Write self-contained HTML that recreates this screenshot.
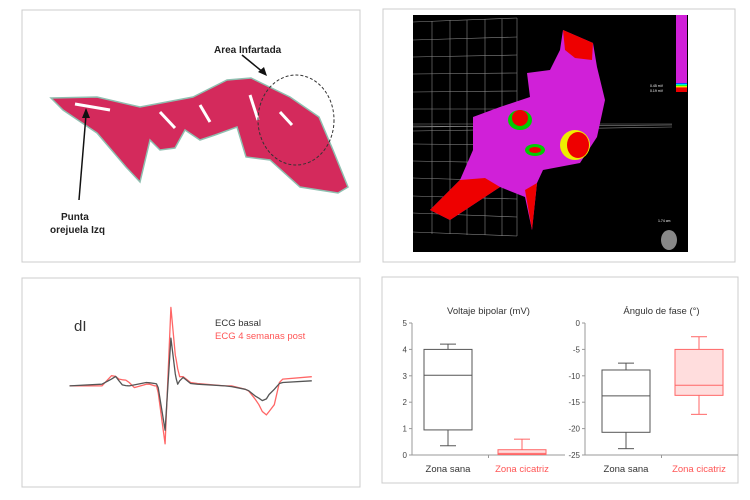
<!DOCTYPE html>
<html><head><meta charset="utf-8"><style>
body{margin:0;background:#fff;width:750px;height:500px;overflow:hidden;font-family:"Liberation Sans",sans-serif}
svg{position:absolute;left:0;top:0}
</style></head><body>
<svg width="750" height="500" xmlns="http://www.w3.org/2000/svg">
<defs><linearGradient id="rb" x1="0" y1="0" x2="0" y2="1"><stop offset="0" stop-color="#00f"/><stop offset=".3" stop-color="#0ff"/><stop offset=".5" stop-color="#0f0"/><stop offset=".7" stop-color="#ff0"/><stop offset="1" stop-color="#f00"/></linearGradient></defs>
<g>
<rect x="22" y="10" width="338" height="252" fill="#fff" stroke="#ccc"/>
<polygon points="51,98 97,97 140,107 193,97 227,80 251,78 290,97 319,117 333,150 348,187 338,193 300,187 270,160 246,157 237,127 215,135 200,140 185,130 175,148 160,150 150,140 140,182 126,167 97,133 63,110" fill="#d42a5c" stroke="#8fbfb0" stroke-width="1.5"/>
<path d="M75,104 L110,110 M160,112 L175,128 M200,105 L210,122 M250,95 L258,120 M280,112 L292,125" stroke="#fff" stroke-width="3" fill="none"/>
<ellipse cx="296" cy="120" rx="38" ry="45" fill="none" stroke="#333" stroke-dasharray="3,2"/>
<text x="214" y="53" font-size="10" font-weight="bold" fill="#222">Area Infartada</text>
<line x1="242" y1="55" x2="264" y2="73" stroke="#111" stroke-width="1.5"/><polygon points="267,76 258,72 264,67" fill="#111"/>
<text x="61" y="220" font-size="10" font-weight="bold" fill="#222">Punta</text>
<text x="50" y="233" font-size="10" font-weight="bold" fill="#222">orejuela Izq</text>
<line x1="79" y1="200" x2="86" y2="115" stroke="#111" stroke-width="1.5"/><polygon points="86,108 82,118 90,118" fill="#111"/>
</g>
<g>
<rect x="383" y="9" width="352" height="253" fill="#fff" stroke="#ccc"/>
<rect x="413" y="15" width="275" height="237" fill="#000"/>
<g stroke="#888" stroke-width=".6" fill="none">
<path d="M413,22 L517,18 M413,232 L517,236 M413,40 L517,37 M413,57 L517,55 M413,74 L517,73 M413,92 L517,91 M413,109 L517,109 M413,126 L517,127 M413,144 L517,145 M413,161 L517,163 M413,178 L517,181 M413,196 L517,199 M413,213 L517,217"/>
<path d="M432,21 V234 M450,20 V234 M467,20 V235 M485,19 V235 M502,19 V236 M517,18 V236"/>
<path d="M413,127 L672,125 M413,131 L672,127 M413,124 L672,124"/>
</g>
<polygon points="563,30 593,43 597,67 605,100 597,137 580,163 543,170 537,183 532,230 525,197 500,187 450,220 430,210 460,180 473,150 473,117 500,107 530,97 527,73 550,70 560,50" fill="#d020d8"/>
<path d="M563,30 L593,43 L592,60 L575,58 L565,50Z" fill="#e00"/>
<path d="M430,210 L460,180 L485,178 L500,187 L450,220Z" fill="#e00"/>
<path d="M525,190 L537,183 L532,230 Z" fill="#e00"/>
<ellipse cx="520" cy="120" rx="12" ry="10" fill="#0c0"/><ellipse cx="520" cy="118" rx="8" ry="8" fill="#e00"/>
<ellipse cx="575" cy="145" rx="15" ry="15" fill="#ee0"/><ellipse cx="578" cy="145" rx="11" ry="13" fill="#e00"/>
<ellipse cx="535" cy="150" rx="10" ry="6" fill="#0c0"/><ellipse cx="535" cy="150" rx="6" ry="3" fill="#e00"/>
<rect x="676" y="15" width="11" height="68" fill="#d020d8"/>
<rect x="676" y="83" width="11" height="5" fill="url(#rb)"/><rect x="676" y="88" width="11" height="4" fill="#e00"/>
<text x="650" y="87" font-size="3.5" fill="#fff">0.45 mV</text><text x="650" y="92" font-size="3.5" fill="#fff">0.19 mV</text>
<text x="658" y="222" font-size="3.5" fill="#fff">1.74 cm</text>
<ellipse cx="669" cy="240" rx="8" ry="10" fill="#888"/>
</g>
<g>
<rect x="22" y="278" width="338" height="209" fill="#fff" stroke="#ccc"/>
<text x="74" y="331" font-size="15" fill="#333">dI</text>
<text x="215" y="326" font-size="9.5" fill="#333">ECG basal</text>
<text x="215" y="339" font-size="9.5" fill="#f55">ECG 4 semanas post</text>
<g id="ecg"></g>
</g>
<g>
<rect x="382" y="277" width="356" height="206" fill="#fff" stroke="#ccc"/>
<g id="bp"></g>
</g>
</svg>
<script>
const ecgT=[145,240,268,280,290,300,310,320,335,370,380,395,400,405,425,442,455,458,462,468,478,500,520,600,620,660,670,690,700,710,722,730,745,760,770,855];
const ecgBasal=[0,5,20,28,15,3,1,0,3,10,9,7,6,-5,-130,140,35,20,5,15,25,7,5,0,-2,-10,-14,-30,-36,-43,-38,-25,-10,7,10,15];
const ecgPost=[0,0,30,28,20,18,17,10,-5,5,5,0,0,-20,-170,230,90,75,50,27,27,10,7,0,0,-10,-15,-40,-55,-75,-85,-75,-55,10,20,27];
const ns="http://www.w3.org/2000/svg";
function mk(tag,at,parent){const e=document.createElementNS(ns,tag);for(const k in at)e.setAttribute(k,at[k]);parent.appendChild(e);return e;}
const ex=t=>20+t/2.93, ey=v=>275+(325-v)/2.93;
const eg=document.getElementById('ecg');
function line(vals,col,name){const d=ecgT.map((t,i)=>(i?'L':'M')+ex(t).toFixed(1)+','+ey(vals[i]).toFixed(1)).join(' ');
const p=mk('path',{d:d,fill:'none',stroke:col,'stroke-width':1.3,'stroke-linejoin':'round'},eg);

}
line(ecgPost,'#f66','ecg-post-line');line(ecgBasal,'#555','ecg-basal-line');

const categories=['Zona sana','Zona cicatriz'];
const catColors=['#555','#f66'];
const voltMin=[0.35,0.02],voltQ1=[0.95,0.02],voltMed=[3.02,0.06],voltQ3=[4.0,0.2],voltMax=[4.2,0.6];
const angMin=[-23.8,-17.3],angQ1=[-20.7,-13.7],angMed=[-13.8,-11.8],angQ3=[-8.9,-5.0],angMax=[-7.6,-2.6];
const voltTicks=[0,1,2,3,4,5];
const angTicks=[0,-5,-10,-15,-20,-25];
const bp=document.getElementById('bp');
function chart(title,ax,ax2,lo,hi,ticks,mn,q1,md,q3,mx,cx,id){
 const yT=323,yB=455,y=v=>yB-(v-lo)/(hi-lo)*(yB-yT);
 let t=mk('text',{x:(ax+ax2)/2,y:314,'font-size':9.5,fill:'#333','text-anchor':'middle'},bp);t.textContent=title;
 
 
 mk('line',{x1:ax,y1:yT,x2:ax,y2:yB,stroke:'#999'},bp);
 mk('line',{x1:ax,y1:yB,x2:ax2,y2:yB,stroke:'#999'},bp);
 mk('line',{x1:(ax+ax2)/2,y1:yB,x2:(ax+ax2)/2,y2:yB+3,stroke:'#999'},bp);
 ticks.forEach(v=>{mk('line',{x1:ax-3,y1:y(v),x2:ax,y2:y(v),stroke:'#999'},bp);
  const l=mk('text',{x:ax-5,y:y(v)+3,'font-size':8,fill:'#444','text-anchor':'end'},bp);l.textContent=v;
  
  });
 categories.forEach((c,i)=>{const x=cx[i],col=catColors[i],w=24;
  const g=mk('g',{},bp);
  
  
  mk('line',{x1:x,y1:y(mx[i]),x2:x,y2:y(mn[i]),stroke:col},g);
  mk('line',{x1:x-8,y1:y(mx[i]),x2:x+8,y2:y(mx[i]),stroke:col},g);
  mk('line',{x1:x-8,y1:y(mn[i]),x2:x+8,y2:y(mn[i]),stroke:col},g);
  mk('rect',{x:x-w,y:y(q3[i]),width:2*w,height:Math.max(1,y(q1[i])-y(q3[i])),fill:i?'#fdd':'#fff',stroke:col},g);
  mk('line',{x1:x-w,y1:y(md[i]),x2:x+w,y2:y(md[i]),stroke:col},g);
  const l=mk('text',{x:x,y:472,'font-size':9.5,fill:i?'#f55':'#333','text-anchor':'middle'},bp);l.textContent=c;
  
  });
}
chart('Voltaje bipolar (mV)',412,565,0,5,voltTicks,voltMin,voltQ1,voltMed,voltQ3,voltMax,[448,522],'voltage');
chart('Ángulo de fase (°)',585,738,-25,0,angTicks,angMin,angQ1,angMed,angQ3,angMax,[626,699],'phase');
</script>
</body></html>
